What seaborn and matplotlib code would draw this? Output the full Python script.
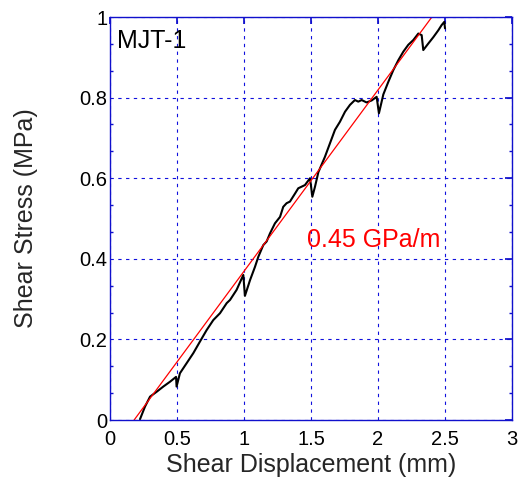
import matplotlib
matplotlib.use("Agg")
import matplotlib.pyplot as plt
from matplotlib.ticker import AutoMinorLocator
import pandas as pd
import seaborn as sns

# Measured shear displacement (mm) and shear stress (MPa)
displacement = [0.224, 0.261, 0.299, 0.348, 0.398, 0.448, 0.493, 0.497, 0.522,
                0.572, 0.622, 0.672, 0.721, 0.771, 0.821, 0.871, 0.896, 0.945,
                0.995, 1.007, 1.045, 1.082, 1.107, 1.144, 1.169, 1.194, 1.231,
                1.269, 1.293, 1.318, 1.343, 1.381, 1.405, 1.430, 1.455, 1.493,
                1.510, 1.530, 1.555, 1.604, 1.642, 1.679, 1.716, 1.754, 1.791,
                1.828, 1.853, 1.878, 1.915, 1.953, 1.990, 2.007, 2.040, 2.077,
                2.114, 2.152, 2.189, 2.226, 2.264, 2.301, 2.326, 2.338, 2.375,
                2.413, 2.450, 2.475, 2.495, 2.500]
stress = [0.002, 0.033, 0.058, 0.070, 0.083, 0.095, 0.107, 0.083, 0.116,
          0.141, 0.166, 0.195, 0.223, 0.248, 0.265, 0.290, 0.298, 0.323,
          0.360, 0.308, 0.347, 0.380, 0.405, 0.434, 0.443, 0.463, 0.488,
          0.504, 0.529, 0.538, 0.542, 0.562, 0.575, 0.579, 0.583, 0.600,
          0.554, 0.579, 0.615, 0.653, 0.687, 0.720, 0.740, 0.765, 0.782,
          0.794, 0.790, 0.794, 0.788, 0.793, 0.802, 0.761, 0.808, 0.839,
          0.868, 0.893, 0.914, 0.931, 0.943, 0.959, 0.955, 0.918, 0.934,
          0.950, 0.967, 0.980, 0.988, 0.972]

# Linear fit: stiffness 0.45 GPa/m (= MPa/mm), zero crossing at 0.18 mm
stiffness = 0.45
x_zero = 0.18
fit_x = [x_zero, x_zero + 1.0 / stiffness]
fit_y = [stiffness * (v - x_zero) for v in fit_x]

sns.set_theme(style="white")
plt.rcParams["font.family"] = ["Liberation Sans", "DejaVu Sans"]

fig = plt.figure(figsize=(5.2, 4.96), dpi=100)
ax = fig.add_axes([0.2115, 0.1532, 0.7731, 0.8125])

data = pd.DataFrame({"d": displacement, "s": stress})
sns.lineplot(data=data, x="d", y="s", ax=ax, color="black", linewidth=1.5,
             estimator=None, sort=False)
sns.lineplot(x=fit_x, y=fit_y, ax=ax, color="red", linewidth=0.9)

ax.set_xlim(0, 3)
ax.set_ylim(0, 1)
ax.set_xticks([0, 0.5, 1, 1.5, 2, 2.5, 3])
ax.set_xticklabels(["0", "0.5", "1", "1.5", "2", "2.5", "3"])
ax.set_yticks([0, 0.2, 0.4, 0.6, 0.8, 1])
ax.set_yticklabels(["0", "0.2", "0.4", "0.6", "0.8", "1"])
ax.yaxis.set_minor_locator(AutoMinorLocator(3))

ax.grid(True, which="major", color="#1010dd", linestyle=(0, (3, 4)), linewidth=0.8)
for sp in ax.spines.values():
    sp.set_color("#1010cc")
    sp.set_linewidth(1.0)
ax.tick_params(which="both", direction="in", colors="#1010cc", top=True, right=True,
               labelcolor="black", labelsize=14.5)
ax.tick_params(which="major", length=5)
ax.tick_params(which="minor", length=2.5, left=True, right=True)
ax.tick_params(axis="x", pad=7)
ax.tick_params(axis="y", pad=2)

ax.set_xlabel("Shear Displacement (mm)", fontsize=18, labelpad=3)
ax.set_ylabel("Shear Stress (MPa)", fontsize=18, labelpad=30)

ax.text(0.055, 0.94, "MJT-1", fontsize=18, color="black", ha="left", va="center")
ax.text(1.47, 0.447, "0.45 GPa/m", fontsize=18, color="red", ha="left", va="center")

fig.savefig("out.png", dpi=100)
